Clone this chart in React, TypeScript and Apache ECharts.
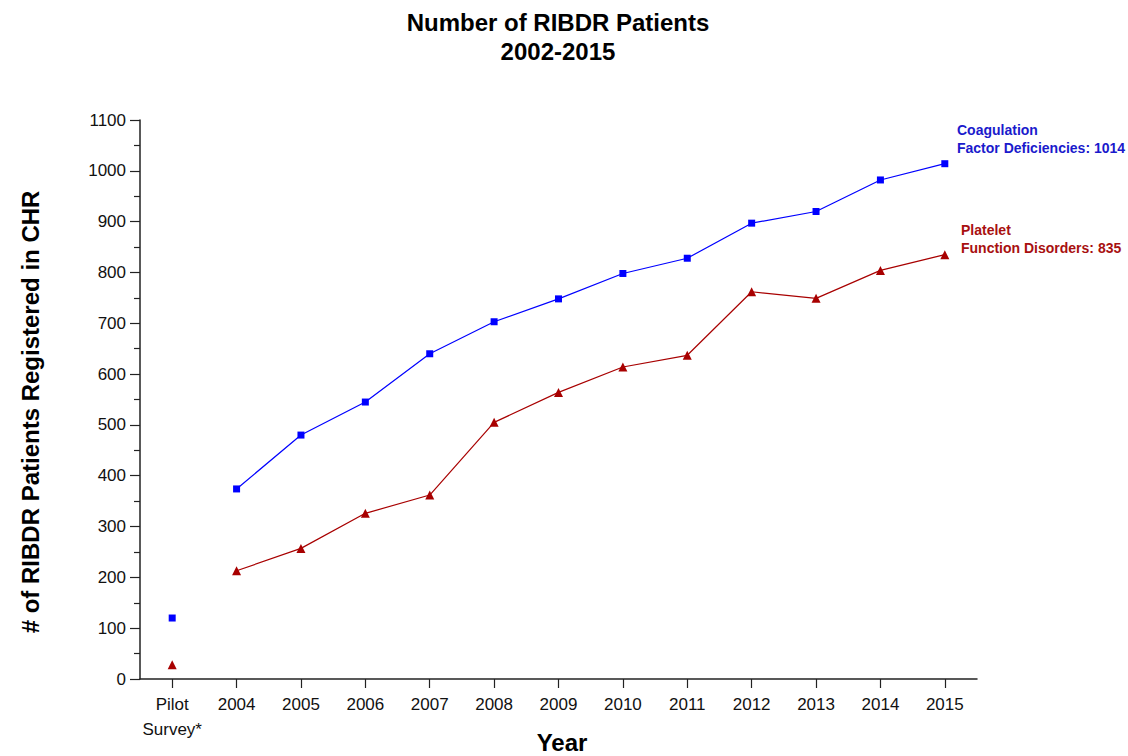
import React, { useEffect, useRef } from "react";
import * as echarts from "echarts";

const categories = ["Pilot\nSurvey*", "2004", "2005", "2006", "2007", "2008", "2009", "2010", "2011", "2012", "2013", "2014", "2015"];
const coagulationPilot = 120;
const plateletPilot = 28;
const coagulation = [374, 480, 545, 640, 703, 748, 798, 828, 897, 920, 982, 1014];
const platelet = [213, 257, 326, 362, 505, 564, 614, 637, 762, 749, 804, 835];

const BLUE = "#0000ff";
const RED = "#a80000";
const FONT = "'Liberation Sans', Arial, sans-serif";

export default function App() {
  const ref = useRef<HTMLDivElement>(null);
  useEffect(() => {
    if (!ref.current) return;
    const chart = echarts.init(ref.current, null, { renderer: "svg" });
    const axisLine = { show: true, lineStyle: { color: "#222", width: 1.5 } };
    chart.setOption({
      animation: false,
      backgroundColor: "#fff",
      textStyle: { fontFamily: FONT },
      grid: { left: 140, right: 151, top: 120, bottom: 77, containLabel: false },
      xAxis: {
        type: "category",
        data: categories,
        boundaryGap: true,
        axisLine,
        axisTick: { show: true, alignWithLabel: true, length: 9, lineStyle: { color: "#222", width: 1.2 } },
        axisLabel: {
          color: "#111",
          fontSize: 17,
          margin: 13,
          interval: 0,
          lineHeight: 25,
          fontFamily: FONT,
        },
        splitLine: { show: false },
      },
      yAxis: {
        type: "value",
        min: 0,
        max: 1100,
        interval: 100,
        axisLine,
        axisTick: { show: true, length: 10, lineStyle: { color: "#222", width: 1.2 } },
        minorTick: { show: true, splitNumber: 2, length: 6, lineStyle: { color: "#222", width: 1.2 } },
        axisLabel: {
          color: "#111",
          fontSize: 17,
          margin: 14,
          fontFamily: FONT,
          formatter: (v: number) => String(v),
        },
        splitLine: { show: false },
      },
      series: [
        {
          type: "line",
          data: [null, ...coagulation],
          symbol: "rect",
          symbolSize: 7,
          lineStyle: { color: BLUE, width: 1.2 },
          itemStyle: { color: BLUE },
          connectNulls: false,
        },
        {
          type: "scatter",
          data: [[0, coagulationPilot]],
          symbol: "rect",
          symbolSize: 7,
          itemStyle: { color: BLUE, opacity: 1 },
        },
        {
          type: "line",
          data: [null, ...platelet],
          symbol: "triangle",
          symbolSize: 9,
          lineStyle: { color: RED, width: 1.2 },
          itemStyle: { color: RED },
          connectNulls: false,
        },
        {
          type: "scatter",
          data: [[0, plateletPilot]],
          symbol: "triangle",
          symbolSize: 9,
          itemStyle: { color: RED, opacity: 1 },
        },
      ],
      graphic: [
        {
          type: "text",
          x: 558,
          y: 8,
          style: {
            text: "Number of RIBDR Patients\n2002-2015",
            font: `bold 24px ${FONT}`,
            fill: "#000",
            align: "center",
            verticalAlign: "top",
            lineHeight: 29,
          },
        },
        {
          type: "text",
          x: 30,
          y: 412,
          rotation: Math.PI / 2,
          style: {
            text: "# of RIBDR Patients Registered in CHR",
            font: `bold 24px ${FONT}`,
            fill: "#000",
            align: "center",
            verticalAlign: "middle",
          },
        },
        {
          type: "text",
          x: 562,
          y: 742,
          style: {
            text: "Year",
            font: `bold 24px ${FONT}`,
            fill: "#000",
            align: "center",
            verticalAlign: "middle",
          },
        },
        {
          type: "text",
          x: 957,
          y: 121,
          style: {
            text: "Coagulation\nFactor Deficiencies: 1014",
            font: `bold 14px ${FONT}`,
            fill: "#1a1acc",
            align: "left",
            verticalAlign: "top",
            lineHeight: 18,
          },
        },
        {
          type: "text",
          x: 961,
          y: 221,
          style: {
            text: "Platelet\nFunction Disorders: 835",
            font: `bold 14px ${FONT}`,
            fill: "#a81010",
            align: "left",
            verticalAlign: "top",
            lineHeight: 18,
          },
        },
      ],
    });
    return () => chart.dispose();
  }, []);
  return (
    <div
      ref={ref}
      style={{ position: "fixed", left: 0, top: 0, width: 1128, height: 756, background: "#fff" }}
    />
  );
}
